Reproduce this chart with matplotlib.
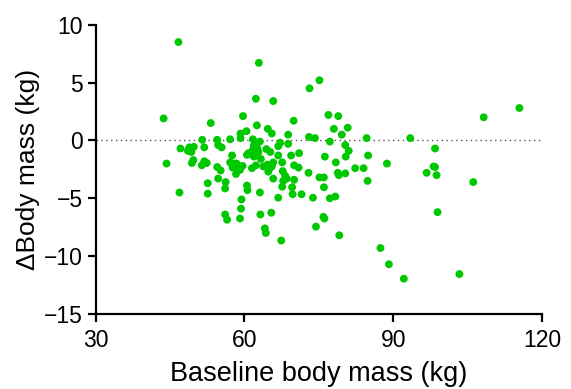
import numpy as np
import matplotlib.pyplot as plt

plt.rcParams['font.family'] = ['Liberation Sans', 'DejaVu Sans']

# baseline body mass (kg), change in body mass (kg)
baseline = [
    46.7, 62.9, 75.1, 73.1, 62.3, 65.8, 43.7, 76.9, 78.9, 53.2, 59.7, 69.9,
    62.5, 64.7, 78.0, 80.8, 60.4, 59.2, 65.5, 68.8, 79.6, 73.0, 74.2, 51.5,
    54.5, 57.1, 59.2, 61.7, 63.1, 67.2, 68.8, 77.2, 84.6, 93.4, 108.2, 115.4,
    # just below zero
    47.1, 48.9, 49.8, 48.6, 49.3, 51.9, 54.7, 55.4, 61.9, 62.6, 62.8, 61.7,
    64.4, 65.2, 66.8, 66.8, 71.0, 69.4, 80.3, 81.0, 98.4, 57.5, 60.5, 60.8,
    61.9, 76.2, 80.4, 84.9,
    # -1.5 to -3
    63.3, 67.6, 44.3, 49.7, 49.4, 51.9, 52.4, 51.4, 54.5, 55.2, 57.1, 58.0,
    58.4, 57.6, 58.8, 59.6, 59.1, 58.3, 61.5, 62.3, 63.8, 64.8, 65.5, 65.8,
    65.1, 64.6, 67.7, 68.2, 70.0, 70.9, 72.9, 78.4, 78.8, 79.0, 80.3, 82.3,
    84.0, 88.7, 98.1, 98.4, 96.7, 98.7,
    # -3 to -5
    65.8, 68.5, 67.6, 67.8, 69.6, 70.0, 69.7, 71.5, 73.8, 75.1, 76.0, 76.0,
    46.9, 52.6, 52.6, 54.7, 56.2, 56.1, 60.5, 60.6, 63.1, 66.8, 84.8, 106.1,
    # below -5
    59.4, 59.3, 56.1, 56.5, 59.1, 63.2, 65.4, 64.1, 64.3, 67.4, 77.2, 78.3,
    75.9, 76.1, 74.4, 79.1, 98.9, 87.4, 89.1, 92.1, 103.3,
]
delta = [
    8.5, 6.7, 5.2, 4.5, 3.6, 3.4, 1.9, 2.2, 2.1, 1.5, 2.1, 1.7,
    1.3, 1.0, 1.0, 1.1, 0.8, 0.6, 0.6, 0.5, 0.5, 0.3, 0.2, 0.05,
    0.05, 0.1, 0.2, 0.1, -0.1, -0.2, -0.3, -0.1, 0.2, 0.2, 2.0, 2.8,
    -0.7, -0.6, -0.55, -0.9, -1.0, -0.6, -0.4, -0.6, -0.45, -0.7, -1.0, -0.8,
    -0.75, -1.0, -0.5, -1.3, -1.1, -1.3, -0.4, -0.9, -0.7, -1.3, -1.25, -1.1,
    -1.4, -1.4, -1.4, -1.3,
    -1.6, -1.9, -2.0, -1.7, -1.95, -1.8, -1.95, -2.15, -2.3, -2.6, -1.9, -2.0,
    -2.0, -2.35, -2.35, -2.2, -2.55, -2.9, -2.4, -2.15, -2.25, -2.7, -2.25, -1.9,
    -2.4, -2.1, -2.65, -3.05, -2.15, -2.35, -2.8, -1.9, -2.8, -3.0, -2.85, -2.4,
    -2.4, -2.0, -2.25, -2.3, -2.8, -3.0,
    -3.3, -3.3, -4.0, -3.5, -4.05, -3.4, -4.65, -4.65, -4.95, -3.2, -3.2, -4.05,
    -4.5, -3.7, -4.6, -3.3, -3.6, -4.15, -3.9, -4.3, -4.5, -4.95, -3.5, -3.6,
    -5.1, -5.9, -6.4, -6.85, -6.75, -6.4, -6.25, -7.6, -8.0, -8.65, -5.0, -4.85,
    -6.6, -6.75, -7.45, -8.2, -6.2, -9.3, -10.7, -11.95, -11.55,
]

xticks = [30, 60, 90, 120]
yticks = [-15, -10, -5, 0, 5, 10]

fig = plt.figure(figsize=(5.71, 3.89), dpi=100)
ax = fig.add_axes([0.1674, 0.1928, 0.7823, 0.7437])

ax.axhline(0, color='#555555', lw=1.0, ls=(0, (1, 2.5)), zorder=1)
ax.scatter(baseline, delta, s=32, color='#00c800', edgecolors='none', zorder=3)

ax.set_xlim(30, 120)
ax.set_ylim(-15, 10)
ax.set_xticks(xticks)
ax.set_yticks(yticks)
ax.set_yticklabels(['\u221215', '\u221210', '\u22125', '0', '5', '10'])

for side in ['top', 'right']:
    ax.spines[side].set_visible(False)
for side in ['left', 'bottom']:
    ax.spines[side].set_linewidth(1.6)
ax.tick_params(width=1.6, length=6, labelsize=16.5, color='black')
ax.tick_params(axis='x', pad=5)
ax.tick_params(axis='y', pad=3)

ax.set_xlabel('Baseline body mass (kg)', fontsize=19.5, labelpad=6)
ax.set_ylabel('\u0394Body mass (kg)', fontsize=19, labelpad=3)

fig.savefig('out.png', dpi=100)
